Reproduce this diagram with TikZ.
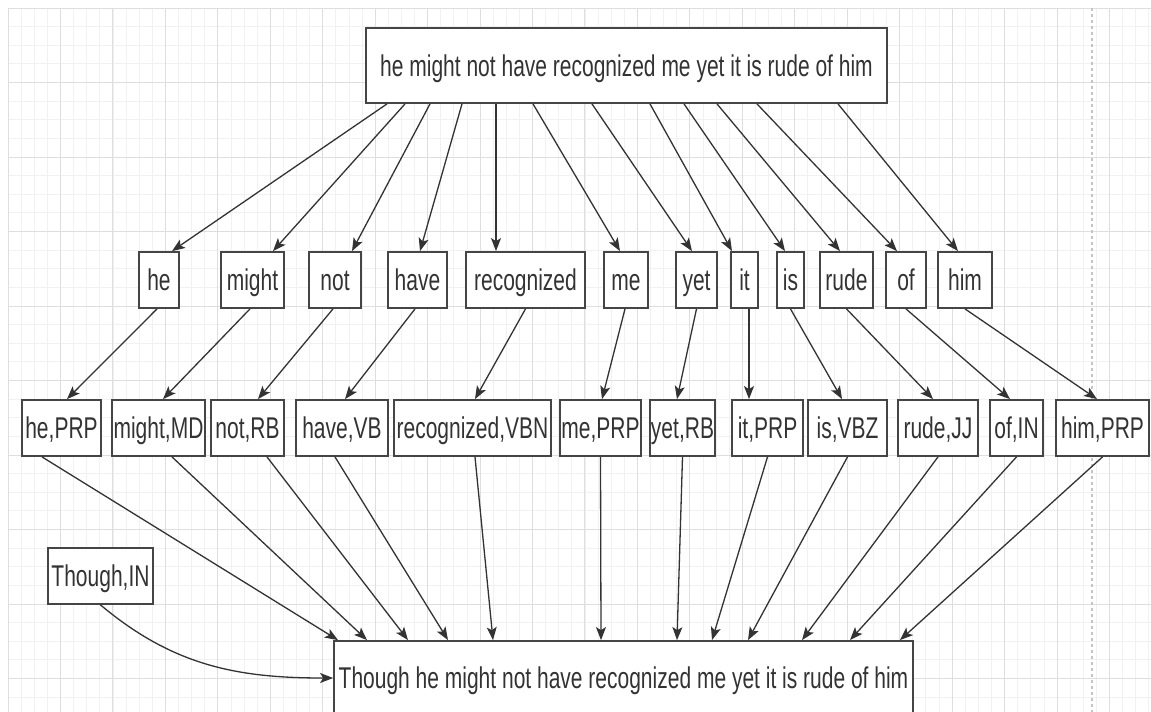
\documentclass[tikz,border=0pt]{standalone}
\usepackage{fontspec}
\setmainfont{Liberation Sans}[FakeStretch=0.7]
\usetikzlibrary{arrows.meta,calc}
\definecolor{ink}{HTML}{333333}
\definecolor{edge}{HTML}{454545}
\definecolor{gridminor}{HTML}{F1F1F1}
\definecolor{gridmajor}{HTML}{DEDEDE}
\definecolor{pagebreak}{HTML}{C4C4C4}

\begin{document}
\begin{tikzpicture}[x=1pt,y=-1pt,
  box/.style={draw=edge, line width=1.8pt, fill=white, inner sep=0pt,
    text=ink, font=\fontsize{30}{34}\selectfont,
    text height=21pt, text depth=0pt, minimum height=56pt},
  link/.style={draw=ink, line width=1.3pt,
    -{Stealth[length=13pt,width=10pt,inset=3pt]}},
  minorline/.style={draw=gridminor, line width=0.8pt},
  majorline/.style={draw=gridmajor, line width=1pt},
]
\clip (0,0) rectangle (1151,712);
\fill[white] (0,0) rectangle (1151,712);

% background grid
\foreach \i in {0,...,87} \draw[minorline] ({8+\i*13.1125},8) -- ({8+\i*13.1125},712);
\foreach \j in {0,...,37} \draw[minorline] (8,{8+\j*18.625}) -- (1151,{8+\j*18.625});
\foreach \i in {0,...,21} \draw[majorline] ({8+\i*52.45},8) -- ({8+\i*52.45},712);
\foreach \j in {0,...,9} \draw[majorline] (8,{8+\j*74.5}) -- (1151,{8+\j*74.5});
\draw[pagebreak, line width=1.2pt, dash pattern=on 3pt off 3pt] (1092,8) -- (1092,712);

% input sentence
\node[box, minimum width=521pt, minimum height=75pt] (source) at (626.5,65.5)
  {he might not have recognized me yet it is rude of him};

% tokens
\node[box, minimum width=40pt]  (he)         at (159,280)   {he};
\node[box, minimum width=63pt]  (might)      at (252.5,280) {might};
\node[box, minimum width=52pt]  (not)        at (335,280)   {not};
\node[box, minimum width=59pt]  (have)       at (417.5,280) {have};
\node[box, minimum width=119pt] (recognized) at (525.5,280) {recognized};
\node[box, minimum width=44pt]  (me)         at (626,280)   {me};
\node[box, minimum width=41pt]  (yet)        at (696.5,280) {yet};
\node[box, minimum width=27pt]  (it)         at (744.5,280) {it};
\node[box, minimum width=27pt]  (is)         at (790.5,280) {is};
\node[box, minimum width=53pt]  (rude)       at (846.5,280) {rude};
\node[box, minimum width=40pt]  (of)         at (906,280)   {of};
\node[box, minimum width=54pt]  (him)        at (965,280)   {him};

% tagged tokens
\node[box, minimum width=79pt]  (hePRP)  at (61.5,428)  {he,PRP};
\node[box, minimum width=93pt]  (mightMD) at (158.5,428) {might,MD};
\node[box, minimum width=73pt]  (notRB)  at (247.5,428) {not,RB};
\node[box, minimum width=92pt]  (haveVB) at (342,428)   {have,VB};
\node[box, minimum width=157pt] (recVBN) at (472.5,428) {recognized,VBN};
\node[box, minimum width=81pt]  (mePRP)  at (600.5,428) {me,PRP};
\node[box, minimum width=65pt]  (yetRB)  at (682.5,428) {yet,RB};
\node[box, minimum width=71pt]  (itPRP)  at (767.5,428) {it,PRP};
\node[box, minimum width=79pt]  (isVBZ)  at (847.5,428) {is,VBZ};
\node[box, minimum width=80pt]  (rudeJJ) at (938,428)   {rude,JJ};
\node[box, minimum width=53pt]  (ofIN)   at (1016.5,428) {of,IN};
\node[box, minimum width=93pt]  (himPRP) at (1102.5,428) {him,PRP};

% added conjunction and output sentence
\node[box, minimum width=105pt] (though) at (100.5,576) {Though,IN};
\node[box, minimum width=579pt, minimum height=74pt] (sentence) at (623.5,678)
  {Though he might not have recognized me yet it is rude of him};

% sentence -> tokens
\foreach \w/\p/\q in {he/-239.5/13, might/-221.5/20.5, not/-196.5/17,
    have/-164.5/2.5, recognized/-130.5/-29.5, me/-93.5/-6, yet/-34.5/-4.5,
    it/23.5/-12.5, is/57.5/-5.5, rude/90.5/-6.5, of/130.5/-9, him/211.5/-7}
  \draw[link] ([xshift=\p pt]source.south) -- ([xshift=\q pt]\w.north);

% tokens -> tags
\foreach \w/\t/\p/\q in {he/hePRP/-2/5.5, might/mightMD/-2.5/4.5,
    not/notRB/-2/10.5, have/haveVB/-2.5/3, recognized/recVBN/0/2.5,
    me/mePRP/-1/1.5, yet/yetRB/0/-5.5, it/itPRP/4.5/-18.5, is/isVBZ/0/-5.5,
    rude/rudeJJ/0/-5, of/ofIN/0/-6.5, him/himPRP/0/-5.5}
  \draw[link] ([xshift=\p pt]\w.south) -- ([xshift=\q pt]\t.north);

% tags -> output sentence
\foreach \t/\p/\q in {hePRP/-19.5/-285.5, mightMD/13.5/-256.5,
    notRB/19.5/-215.5, haveVB/-7/-175.5, recVBN/2.5/-130.5, mePRP/0/-22.5,
    yetRB/0/53.5, itPRP/0/88.5, isVBZ/0/124.5, rudeJJ/0/178.5,
    ofIN/0/226.5, himPRP/0/276.5}
  \draw[link] ([xshift=\p pt]\t.south) -- ([xshift=\q pt]sentence.north);

\draw[link] (though.south) to[out=-40,in=180] (sentence.west);
\end{tikzpicture}
\end{document}
